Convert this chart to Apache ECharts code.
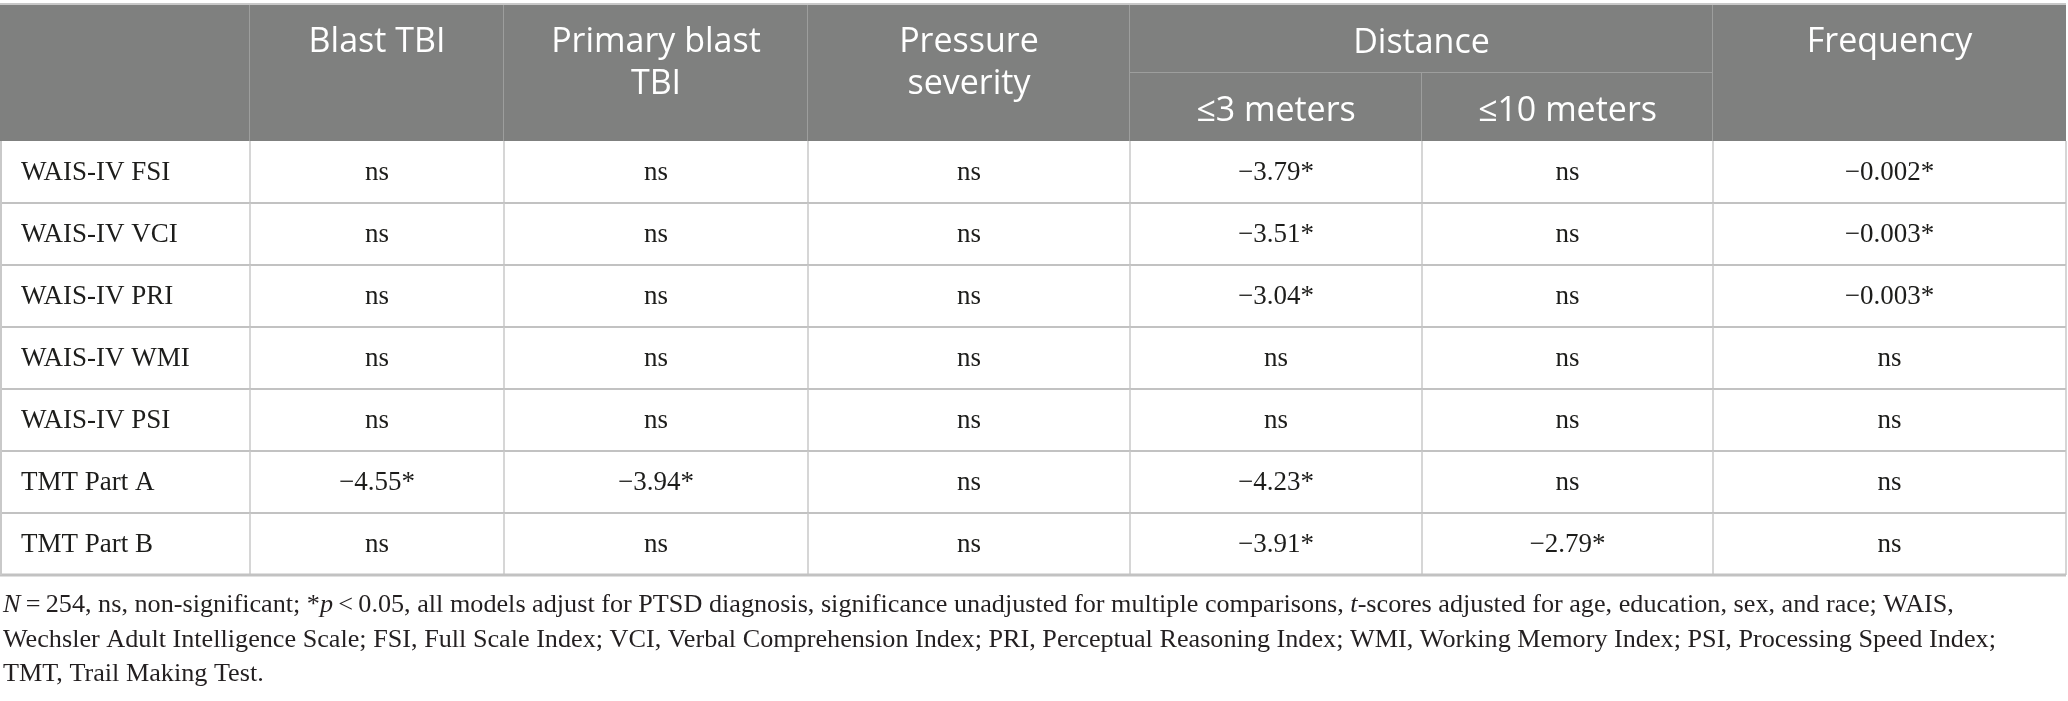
<!DOCTYPE html>
<html>
<head>
<meta charset="utf-8">
<script src="https://cdn.jsdelivr.net/npm/echarts@6/dist/echarts.min.js"></script>
<style>
html, body { margin: 0; padding: 0; background: #fff; }
#main { width: 2068px; height: 701px; }
</style>
</head>
<body>
<div id="main"></div>
<script>
// table content
var rowLabels = ['WAIS-IV FSI', 'WAIS-IV VCI', 'WAIS-IV PRI', 'WAIS-IV WMI', 'WAIS-IV PSI', 'TMT Part A', 'TMT Part B'];
var headers = ['Blast TBI', 'Primary blast\nTBI', 'Pressure\nseverity', '\u22643 meters', '\u226410 meters', 'Frequency'];
var groupHeader = 'Distance';
var blastTbi = ['ns', 'ns', 'ns', 'ns', 'ns', '\u22124.55*', 'ns'];
var primaryBlastTbi = ['ns', 'ns', 'ns', 'ns', 'ns', '\u22123.94*', 'ns'];
var pressureSeverity = ['ns', 'ns', 'ns', 'ns', 'ns', 'ns', 'ns'];
var within3m = ['\u22123.79*', '\u22123.51*', '\u22123.04*', 'ns', 'ns', '\u22124.23*', '\u22123.91*'];
var within10m = ['ns', 'ns', 'ns', 'ns', 'ns', 'ns', '\u22122.79*'];
var frequency = ['\u22120.002*', '\u22120.003*', '\u22120.003*', 'ns', 'ns', 'ns', 'ns'];
var footnote = [
    '{i|N}\u2009=\u2009254, ns, non-significant; *{i|p}\u2009<\u20090.05, all models adjust for PTSD diagnosis, significance unadjusted for multiple comparisons, {i|t}-scores adjusted for age, education, sex, and race; WAIS,',
    'Wechsler Adult Intelligence Scale; FSI, Full Scale Index; VCI, Verbal Comprehension Index; PRI, Perceptual Reasoning Index; WMI, Working Memory Index; PSI, Processing Speed Index;',
    'TMT, Trail Making Test.'
];

// layout (axis units)
var colEdges = [0, 250, 504, 808, 1130, 1422, 1713, 2066];
var headH = 137, subTop = 69, rowH = 62;
var bodyCols = [rowLabels, blastTbi, primaryBlastTbi, pressureSeverity, within3m, within10m, frequency];

// [fromCol, toCol, top, bottom, text, text offset]
var headCells = [
    [0, 1, 0, headH, '', 0],
    [1, 2, 0, headH, headers[0], 17],
    [2, 3, 0, headH, headers[1], 17],
    [3, 4, 0, headH, headers[2], 17],
    [4, 6, 0, subTop, groupHeader, 18],
    [4, 5, subTop, headH, headers[3], 17],
    [5, 6, subTop, headH, headers[4], 17],
    [6, 7, 0, headH, headers[5], 17]
];

var bodyData = [];
rowLabels.forEach(function (lab, r) {
    for (var c = 0; c < bodyCols.length; c++) bodyData.push([c, r]);
});

var headFont = '"Open Sans", "Noto Sans", sans-serif';
var bodyFont = '"Liberation Serif", "DejaVu Serif", serif';

function renderHead(params, api) {
    var c = headCells[params.dataIndex];
    var p0 = api.coord([colEdges[c[0]], c[2]]);
    var p1 = api.coord([colEdges[c[1]], c[3]]);
    var kids = [
        {type: 'rect', shape: {x: p0[0], y: p0[1], width: p1[0] - p0[0], height: p1[1] - p0[1]},
         style: {fill: '#7f807f'}}
    ];
    if (c[1] < colEdges.length - 1) {
        kids.push({type: 'line', shape: {x1: p1[0], y1: p0[1], x2: p1[0], y2: p1[1]},
                   style: {stroke: '#9d9e9d', lineWidth: 2}});
    }
    if (c[3] < headH) {
        kids.push({type: 'line', shape: {x1: p0[0], y1: p1[1], x2: p1[0], y2: p1[1]},
                   style: {stroke: '#9d9e9d', lineWidth: 2}});
    }
    if (c[2] === 0) {
        kids.push({type: 'line', shape: {x1: p0[0], y1: p0[1], x2: p1[0], y2: p0[1]},
                   style: {stroke: '#c8c8c8', lineWidth: 2}});
    }
    kids.push({type: 'text', style: {
        text: c[4], x: (p0[0] + p1[0]) / 2, y: p0[1] + c[5],
        align: 'center', verticalAlign: 'top', fill: '#ffffff',
        fontFamily: headFont, fontSize: 34, fontWeight: 'normal', lineHeight: 42
    }});
    return {type: 'group', children: kids};
}

function renderBody(params, api) {
    var c = api.value(0), r = api.value(1);
    var y0 = headH + r * rowH;
    var p0 = api.coord([colEdges[c], y0]);
    var p1 = api.coord([colEdges[c + 1], y0 + rowH]);
    var last = r === rowLabels.length - 1;
    var kids = [
        {type: 'line', shape: {x1: p1[0], y1: p0[1], x2: p1[0], y2: p1[1]},
         style: {stroke: '#c9c9c9', lineWidth: 1.5}},
        {type: 'line', shape: {x1: p0[0], y1: p1[1], x2: p1[0], y2: p1[1]},
         style: {stroke: '#c2c2c2', lineWidth: last ? 3 : 2}}
    ];
    if (c === 0) {
        kids.push({type: 'line', shape: {x1: p0[0] + 1, y1: p0[1], x2: p0[0] + 1, y2: p1[1]},
                   style: {stroke: '#c9c9c9', lineWidth: 2}});
    }
    kids.push({type: 'text', style: {
        text: bodyCols[c][r],
        x: c === 0 ? p0[0] + 21 : (p0[0] + p1[0]) / 2,
        y: (p0[1] + p1[1]) / 2 + 1,
        align: c === 0 ? 'left' : 'center', verticalAlign: 'middle',
        fill: '#1d1d1b', fontFamily: bodyFont, fontSize: 27
    }});
    return {type: 'group', children: kids};
}

var chart = echarts.init(document.getElementById('main'));
chart.setOption({
    animation: false,
    title: {
        text: footnote.join('\n'),
        left: 3,
        top: 588,
        padding: 0,
        textStyle: {
            fontFamily: bodyFont, fontSize: 26.2, fontWeight: 'normal', color: '#231f20', lineHeight: 34.5,
            rich: {
                i: {fontFamily: bodyFont, fontSize: 26.2, fontStyle: 'italic', color: '#231f20', lineHeight: 34.5}
            }
        }
    },
    grid: {left: 0, top: 4, width: 2066, height: 571},
    xAxis: {type: 'value', min: 0, max: colEdges[colEdges.length - 1], show: false},
    yAxis: {type: 'value', min: 0, max: headH + rowH * rowLabels.length, inverse: true, show: false},
    series: [
        {
            type: 'custom',
            name: 'header',
            silent: true,
            data: headCells.map(function (c) { return [colEdges[c[0]], c[2]]; }),
            renderItem: renderHead
        },
        {
            type: 'custom',
            name: 'body',
            silent: true,
            data: bodyData,
            renderItem: renderBody
        }
    ]
});
</script>
</body>
</html>
